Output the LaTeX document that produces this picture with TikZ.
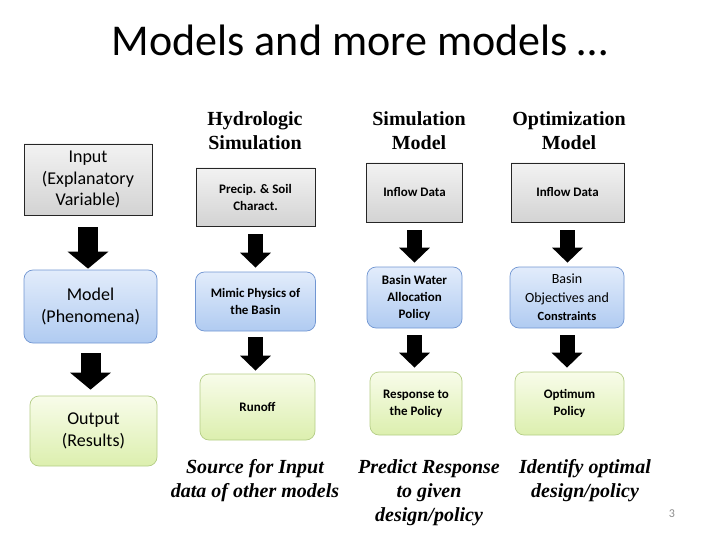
\documentclass[tikz,border=0pt]{standalone}
\usepackage{fontspec}
\setmainfont{Carlito}
\newfontfamily\timesfont{Liberation Serif}
\usetikzlibrary{arrows.meta}

\definecolor{grayTop}{HTML}{F2F2F2}
\definecolor{grayBot}{HTML}{D3D3D3}
\definecolor{blueTop}{HTML}{E2ECFB}
\definecolor{blueBot}{HTML}{B0CBF1}
\definecolor{blueLine}{HTML}{7196D2}
\definecolor{greenTop}{HTML}{F8FCEA}
\definecolor{greenBot}{HTML}{DCEFAE}
\definecolor{greenLine}{HTML}{B4CD86}

\begin{document}
\begin{tikzpicture}[x=1pt,y=-1pt,
  databox/.style={draw=black!85,line width=0.6pt,top color=grayTop,bottom color=grayBot,align=center,inner sep=0pt},
  modelbox/.style={draw=blueLine,line width=0.7pt,rounded corners=9pt,top color=blueTop,bottom color=blueBot,align=center,inner sep=0pt},
  resultbox/.style={draw=greenLine,line width=0.7pt,rounded corners=9pt,top color=greenTop,bottom color=greenBot,align=center,inner sep=0pt},
  leftfont/.style={font=\fontsize{18}{21.5}\selectfont},
  colfont/.style={font=\fontsize{13}{17}\selectfont\bfseries},
  hdr/.style={align=center,font=\timesfont\bfseries\fontsize{20}{24}\selectfont},
  note/.style={align=center,font=\timesfont\bfseries\itshape\fontsize{20}{24}\selectfont},
  bigflow/.style={line width=20pt,-{Triangle[length=17pt,width=40pt]},shorten <=12pt,shorten >=1pt},
  flow/.style={line width=15pt,-{Triangle[length=15pt,width=30pt]},shorten <=8pt,shorten >=4pt}]
  \useasboundingbox (0,0) rectangle (720,540);
  \node[anchor=base,font=\fontsize{44}{52}\selectfont] (title) at (360,56) {Models and more models …};

  \node[databox,leftfont,minimum width=128pt,minimum height=71pt] (input) at (88,179.5) {Input\\(Explanatory\\Variable)};
  \node[modelbox,leftfont,minimum width=133pt,minimum height=73pt] (model) at (90.5,306.5) {Model\\(Phenomena)};
  \node[resultbox,leftfont,minimum width=127pt,minimum height=70pt] (output) at (93.5,431) {Output\\(Results)};

  \node[hdr] (hydro) at (255,131) {Hydrologic\\Simulation};
  \node[hdr] (sim) at (419,131) {Simulation\\Model};
  \node[hdr] (opt) at (569,131) {Optimization\\Model};

  \node[databox,colfont,minimum width=119pt,minimum height=58pt] (precip) at (255.5,197) {Precip. \& Soil\\Charact.};
  \node[databox,colfont,minimum width=96pt,minimum height=59pt] (inflowsim) at (414.5,192.5) {Inflow Data};
  \node[databox,colfont,minimum width=113pt,minimum height=59pt] (inflowopt) at (567.5,192.5) {Inflow Data};

  \node[modelbox,colfont,minimum width=120pt,minimum height=59pt] (mimic) at (255.5,301.5) {Mimic Physics of\\the Basin};
  \node[modelbox,colfont,minimum width=95pt,minimum height=61pt] (alloc) at (414.5,297.5) {Basin Water\\Allocation\\Policy};
  \node[modelbox,minimum width=114pt,minimum height=61pt,font=\fontsize{14}{18.5}\selectfont] (objective) at (567,297.5) {Basin\\Objectives and\\{\fontsize{12.5}{15}\selectfont\bfseries Constraints}};

  \node[resultbox,colfont,minimum width=115pt,minimum height=66pt] (runoff) at (257.5,407) {Runoff};
  \node[resultbox,colfont,minimum width=92pt,minimum height=63pt] (response) at (416,403.5) {Response to\\the Policy};
  \node[resultbox,colfont,minimum width=109pt,minimum height=63pt] (optimum) at (569.5,403.5) {Optimum\\Policy};

  \node[note,anchor=north] (source) at (255,456) {Source for Input\\data of other models};
  \node[note,anchor=north] (predict) at (429,456) {Predict Response\\to given\\design/policy};
  \node[note,anchor=north] (identify) at (585,456) {Identify optimal\\design/policy};
  \node[text=black!45,font=\fontsize{12}{14}\selectfont] (pageno) at (672,514) {3};

  \draw[bigflow] (input.south) -- (input.south |- model.north);
  \draw[bigflow,shorten <=10pt,shorten >=6pt] (model.south) -- (model.south |- output.north);
  \draw[flow] (precip.south) -- (precip.south |- mimic.north);
  \draw[flow] (inflowsim.south) -- (inflowsim.south |- alloc.north);
  \draw[flow] (inflowopt.south) -- (inflowopt.south |- objective.north);
  \draw[flow,shorten <=6pt,shorten >=3pt] (mimic.south) -- (mimic.south |- runoff.north);
  \draw[flow,shorten <=7pt] (alloc.south) -- (alloc.south |- response.north);
  \draw[flow,shorten <=7pt] (objective.south) -- (objective.south |- optimum.north);
\end{tikzpicture}
\end{document}
